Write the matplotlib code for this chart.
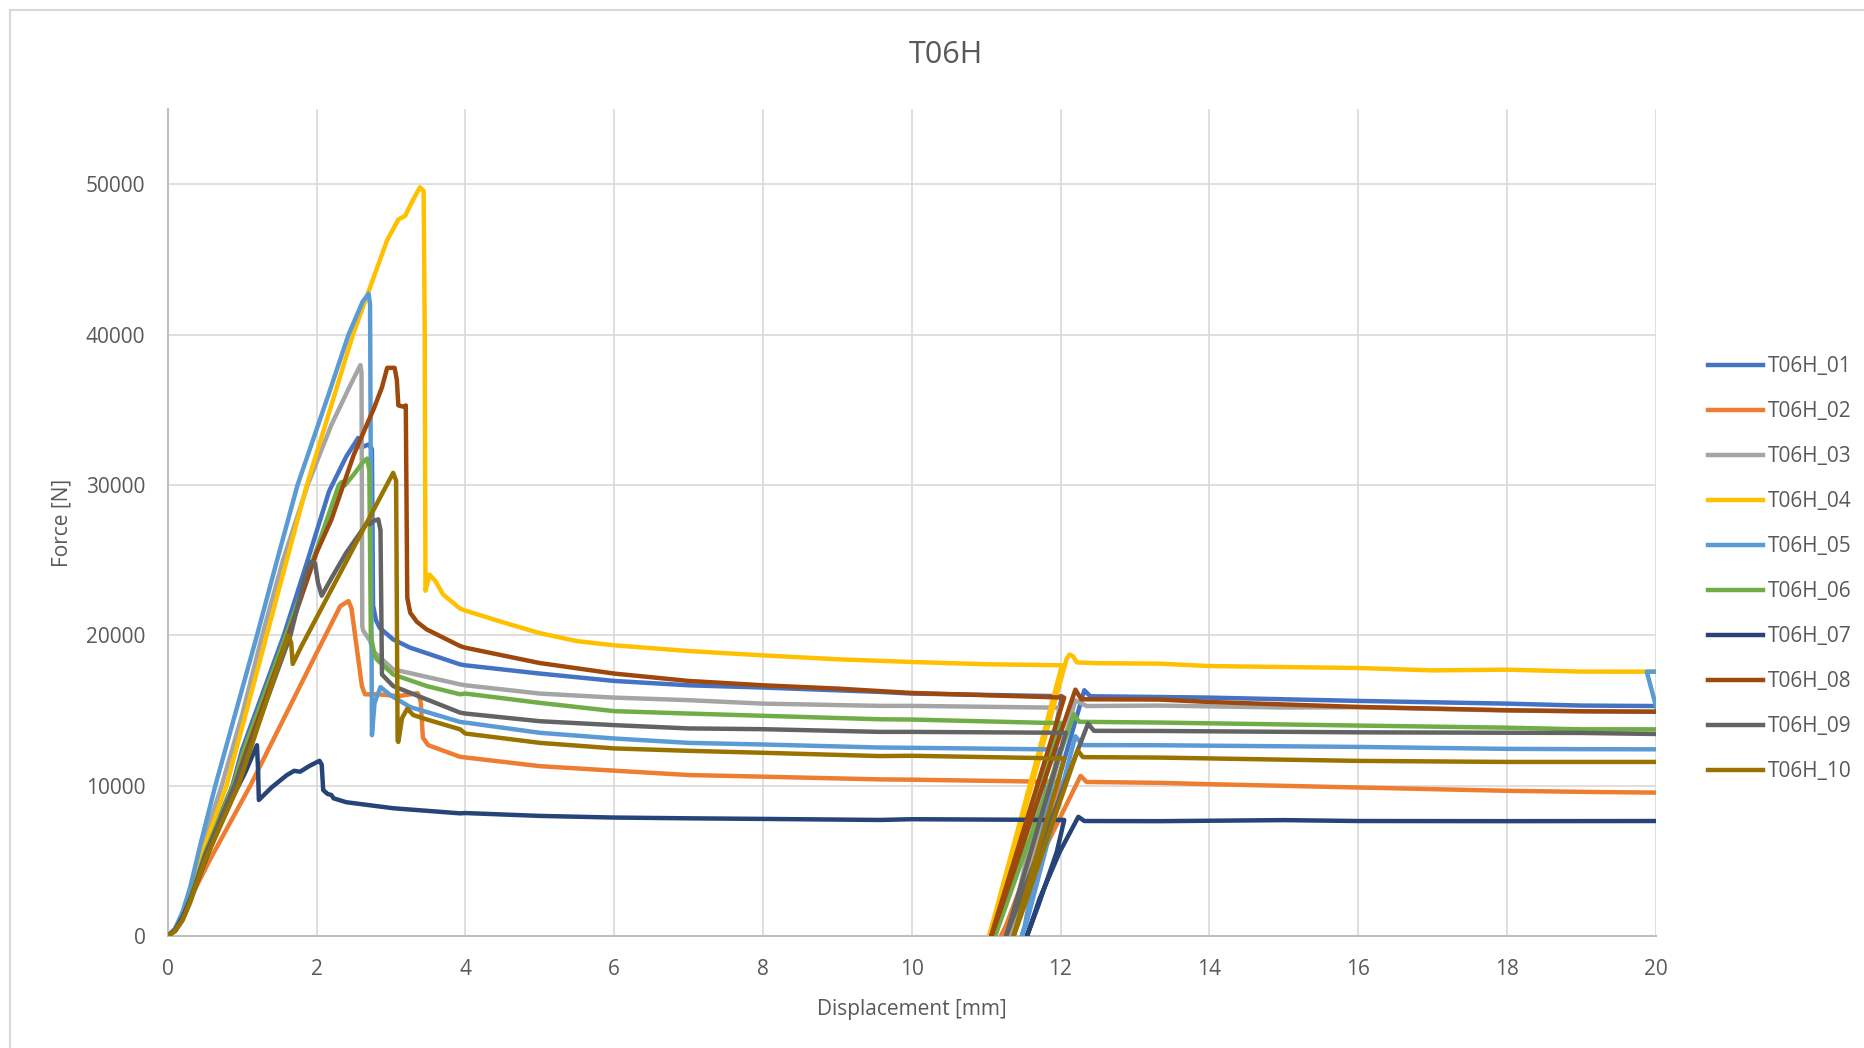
import matplotlib
matplotlib.use("Agg")
import matplotlib.pyplot as plt
from matplotlib.lines import Line2D

plt.rcParams['font.family'] = ['Open Sans', 'DejaVu Sans']

title = "T06H"
x_label = "Displacement [mm]"
y_label = "Force [N]"
series_names = ["T06H_01", "T06H_02", "T06H_03", "T06H_04", "T06H_05",
                "T06H_06", "T06H_07", "T06H_08", "T06H_09", "T06H_10"]
series_colors = ["#4472C4", "#ED7D31", "#A5A5A5", "#FFC000", "#5B9BD5",
                 "#70AD47", "#264478", "#9E480E", "#636363", "#997300"]
x_ticks = [0, 2, 4, 6, 8, 10, 12, 14, 16, 18, 20]
y_ticks = [0, 10000, 20000, 30000, 40000, 50000]

# T06H_01
x01 = [0, 0.1, 0.2, 0.3, 0.5, 0.87, 1.0, 1.56, 1.9, 2.17, 2.4, 2.56, 2.60, 2.70, 2.745, 2.76, 2.80, 2.85,
       3.03, 3.26, 3.93, 4.0, 5.0, 6.0, 7.0, 8.0, 9.57, 10.0, 12.02, 11.40, 11.35, 11.42, 12.32, 12.40,
       13.33, 14.0, 16.0, 18.0, 19.0, 20.0]
f01 = [0, 380, 1200, 2500, 5600, 10000, 12400, 20000, 25300, 29600, 31900, 33135, 32500, 32700, 32400, 22000, 21000, 20500,
       19730, 19180, 18070, 18010, 17460, 16970, 16680, 16530, 16240, 16130, 15950, 800, 0, 900, 16350, 15950,
       15900, 15860, 15640, 15460, 15330, 15300]
# T06H_02
x02 = [0, 0.1, 0.23, 0.57, 1.11, 1.98, 2.32, 2.43, 2.47, 2.61, 2.65, 2.83, 3.10, 3.36, 3.40, 3.43, 3.50,
       3.93, 4.0, 4.5, 5.0, 6.0, 7.0, 8.0, 9.57, 10.0, 12.0, 11.26, 11.20, 11.28, 12.27, 12.35,
       13.33, 14.0, 16.0, 18.0, 19.0, 20.0]
f02 = [0, 450, 1770, 5100, 10000, 18620, 21950, 22280, 21800, 16630, 16080, 16080, 15960, 16150, 15600, 13200, 12700,
       11920, 11880, 11590, 11300, 11000, 10710, 10600, 10420, 10400, 10250, 600, 0, 700, 10650, 10250,
       10190, 10100, 9880, 9660, 9590, 9540]
# T06H_03
x03 = [0, 0.1, 0.2, 0.3, 0.45, 0.725, 1.0, 1.27, 1.55, 1.88, 2.2, 2.45, 2.59, 2.605, 2.615, 2.63, 2.72,
       2.76, 3.03, 3.93, 4.0, 5.0, 6.0, 7.0, 8.0, 9.57, 10.0, 11.8, 12.0, 11.34, 11.30, 11.36, 12.2, 12.35,
       13.33, 14.0, 15.0, 16.0, 18.0, 20.0]
f03 = [0, 450, 1450, 2900, 5800, 10000, 14700, 20000, 25000, 30000, 34000, 36600, 37980, 37500, 20600, 20300, 19640,
       18960, 17740, 16740, 16680, 16130, 15860, 15690, 15460, 15310, 15310, 15200, 15190, 700, 0, 800, 15680, 15300,
       15330, 15280, 15200, 15220, 15000, 14910]
# T06H_04
x04 = [0, 0.1, 0.2, 0.3, 0.5, 0.79, 1.05, 1.33, 1.87, 2.49, 2.72, 2.95, 3.10, 3.19, 3.30, 3.39, 3.44, 3.455,
       3.465, 3.52, 3.60, 3.70, 3.93, 4.0, 4.5, 5.0, 5.5, 6.0, 7.0, 8.0, 9.0, 10.0, 11.0, 12.02,
       11.08, 11.04, 11.10, 12.08, 12.12, 12.17, 12.22, 12.5, 13.33, 14.0, 16.0, 17.0, 18.0, 19.0, 20.0]
f04 = [0, 400, 1300, 2700, 6000, 10000, 14800, 20000, 30000, 40000, 43160, 46300, 47670, 47900, 49000, 49810, 49570, 40000,
       22970, 24040, 23600, 22730, 21780, 21650, 20880, 20150, 19620, 19340, 18960, 18670, 18410, 18230, 18080, 18010,
       700, 0, 800, 18400, 18720, 18600, 18200, 18150, 18120, 17960, 17830, 17670, 17720, 17590, 17585]
# T06H_05
x05 = [0, 0.1, 0.2, 0.3, 0.45, 0.64, 0.92, 1.20, 1.47, 1.745, 2.16, 2.43, 2.62, 2.70, 2.72, 2.745, 2.78,
       2.86, 3.0, 3.26, 3.93, 4.0, 5.0, 6.0, 7.0, 8.0, 9.57, 10.0, 11.97, 11.52, 11.48, 11.54, 12.2, 12.3,
       13.33, 16.0, 18.0, 19.0, 20.0, 20.5, 20.5, 19.88, 20.1]
f05 = [0, 500, 1600, 3200, 6300, 10000, 15000, 20000, 25000, 30000, 36000, 40000, 42200, 42730, 42000, 13360, 15500,
       16560, 16000, 15230, 14240, 14200, 13520, 13140, 12850, 12740, 12540, 12520, 12410, 700, 0, 800, 13290, 12700,
       12690, 12580, 12450, 12430, 12420, 12400, 17585, 17585, 13500]
# T06H_06
x06 = [0, 0.1, 0.2, 0.3, 0.5, 0.88, 1.02, 1.59, 2.0, 2.30, 2.34, 2.38, 2.50, 2.62, 2.68, 2.71, 2.73, 2.78,
       2.81, 3.03, 3.48, 3.93, 4.0, 5.0, 6.0, 7.0, 8.0, 9.57, 10.0, 11.8, 12.0, 11.16, 11.12, 11.18, 12.18, 12.25,
       13.33, 16.0, 18.0, 19.0, 20.0]
f06 = [0, 380, 1200, 2500, 5500, 10000, 12300, 20000, 25700, 30000, 30210, 29980, 30700, 31500, 31760, 31000, 20000, 18700,
       18400, 17400, 16630, 16080, 16130, 15510, 14960, 14800, 14650, 14420, 14400, 14180, 14170, 700, 0, 800, 14750, 14250,
       14200, 14000, 13860, 13750, 13750]
# T06H_07
x07 = [0, 0.1, 0.2, 0.35, 0.6, 0.85, 1.04, 1.20, 1.215, 1.225, 1.40, 1.60, 1.70, 1.78, 1.90, 2.04, 2.07,
       2.09, 2.15, 2.20, 2.23, 2.4, 3.03, 3.93, 4.0, 5.0, 6.0, 7.0, 8.0, 9.57, 10.0, 12.05, 11.95, 11.70,
       11.55, 11.72, 11.99, 12.24, 12.32, 13.33, 15.0, 16.0, 18.0, 20.0]
f07 = [0, 400, 1250, 3000, 6200, 9000, 10860, 12690, 11000, 9050, 9900, 10700, 10990, 10930, 11300, 11655, 11400,
       9710, 9450, 9380, 9160, 8900, 8500, 8160, 8180, 7990, 7880, 7830, 7790, 7720, 7770, 7720, 5600, 2000,
       0, 2500, 5600, 7930, 7650, 7640, 7710, 7650, 7640, 7650]
# T06H_08
x08 = [0, 0.1, 0.2, 0.3, 0.5, 0.9, 1.06, 1.62, 2.0, 2.2, 2.5, 2.77, 2.88, 2.95, 3.05, 3.08, 3.10, 3.18,
       3.20, 3.22, 3.26, 3.35, 3.48, 3.93, 4.0, 5.0, 6.0, 7.0, 8.0, 9.0, 10.0, 12.05, 11.11, 11.07, 11.13,
       12.20, 12.28, 13.33, 14.0, 16.0, 18.0, 19.0, 20.0]
f08 = [0, 350, 1100, 2300, 5300, 10000, 12300, 20000, 25500, 27700, 32000, 35080, 36500, 37800, 37800, 37000, 35300, 35200,
       35300, 22500, 21500, 20900, 20400, 19290, 19180, 18160, 17460, 16970, 16680, 16460, 16170, 15860, 700, 0, 800,
       16390, 15750, 15730, 15570, 15240, 15020, 14950, 14925]
# T06H_09
x09 = [0, 0.1, 0.2, 0.3, 0.5, 0.9, 1.09, 1.65, 1.85, 1.92, 1.98, 2.02, 2.07, 2.2, 2.4, 2.68, 2.72, 2.76,
       2.83, 2.86, 2.88, 3.03, 3.93, 4.0, 5.0, 6.0, 7.0, 8.0, 9.57, 10.0, 12.07, 11.31, 11.27, 11.33, 12.37, 12.45,
       13.33, 16.0, 19.0, 20.0]
f09 = [0, 350, 1100, 2300, 5300, 10000, 12400, 20000, 24000, 24900, 24800, 23500, 22640, 23800, 25500, 27480, 27400, 27600,
       27720, 27000, 17400, 16630, 14860, 14800, 14290, 14030, 13810, 13760, 13580, 13580, 13520, 700, 0, 800, 14130, 13650,
       13640, 13550, 13510, 13440]
# T06H_10
x10 = [0, 0.1, 0.2, 0.3, 0.5, 0.95, 1.11, 1.62, 1.66, 1.68, 1.8, 3.03, 3.07, 3.09, 3.10, 3.15, 3.22, 3.30,
       3.48, 3.93, 4.0, 5.0, 6.0, 7.0, 8.0, 9.57, 10.0, 12.05, 11.41, 11.37, 11.43, 12.23, 12.3,
       13.33, 16.0, 18.0, 20.0]
f10 = [0, 330, 1050, 2200, 5000, 10000, 12400, 20000, 19500, 18100, 19300, 30810, 30300, 13000, 12910, 14500, 15120, 14700,
       14410, 13750, 13470, 12850, 12480, 12320, 12190, 11970, 11990, 11810, 700, 0, 800, 12360, 11900,
       11870, 11650, 11580, 11580]

xs = [x01, x02, x03, x04, x05, x06, x07, x08, x09, x10]
fs = [f01, f02, f03, f04, f05, f06, f07, f08, f09, f10]

W, H = 1865, 1048
fig = plt.figure(figsize=(W / 100, H / 100), dpi=100)
ax = fig.add_axes([167.7 / W, 1 - 936 / H, (1655.7 - 167.7) / W, (936 - 109.3) / H])

for x, f, name, c in zip(xs, fs, series_names, series_colors):
    ax.plot(x, f, color=c, lw=3.2, label=name, solid_joinstyle='round', solid_capstyle='round', zorder=3)

ax.set_xlim(0, 20)
ax.set_ylim(0, 55000)
ax.set_xticks(x_ticks)
ax.set_yticks(y_ticks)
ax.set_xticklabels([str(t) for t in x_ticks])
ax.set_yticklabels([str(t) for t in y_ticks])
ax.grid(True, color="#D9D9D9", lw=1.2, zorder=0)
ax.set_axisbelow(True)
for s in ["top", "right"]:
    ax.spines[s].set_visible(False)
for s in ["left", "bottom"]:
    ax.spines[s].set_color("#BFBFBF")
    ax.spines[s].set_linewidth(1.5)
ax.tick_params(length=0, labelsize=15, colors="#595959")
ax.tick_params(axis='y', pad=16)
ax.tick_params(axis='x', pad=16.5)

ax.set_xlabel(x_label, fontsize=15, color="#595959", labelpad=13.5)
ax.set_ylabel(y_label, fontsize=15, color="#595959", labelpad=9.5)
fig.text(945.6 / W, 1 - 55 / H, title, fontsize=22, color="#595959", ha="center", va="center")

handles = [Line2D([0], [0], color=c, lw=3.2) for c in series_colors]
leg = fig.legend(handles, series_names, loc="upper left", bbox_to_anchor=(1700 / W, 1 - 348 / H),
                 frameon=False, fontsize=15, labelcolor="#595959", handlelength=2.6,
                 handletextpad=0.25, labelspacing=1.15, borderaxespad=0)

# chart border
fig.add_artist(Line2D([10 / W, 10 / W], [0, 1 - 10 / H], color="#D9D9D9", lw=1.5, transform=fig.transFigure))
fig.add_artist(Line2D([10 / W, 1], [1 - 10 / H, 1 - 10 / H], color="#D9D9D9", lw=1.5, transform=fig.transFigure))

fig.savefig("out.png", dpi=100)
